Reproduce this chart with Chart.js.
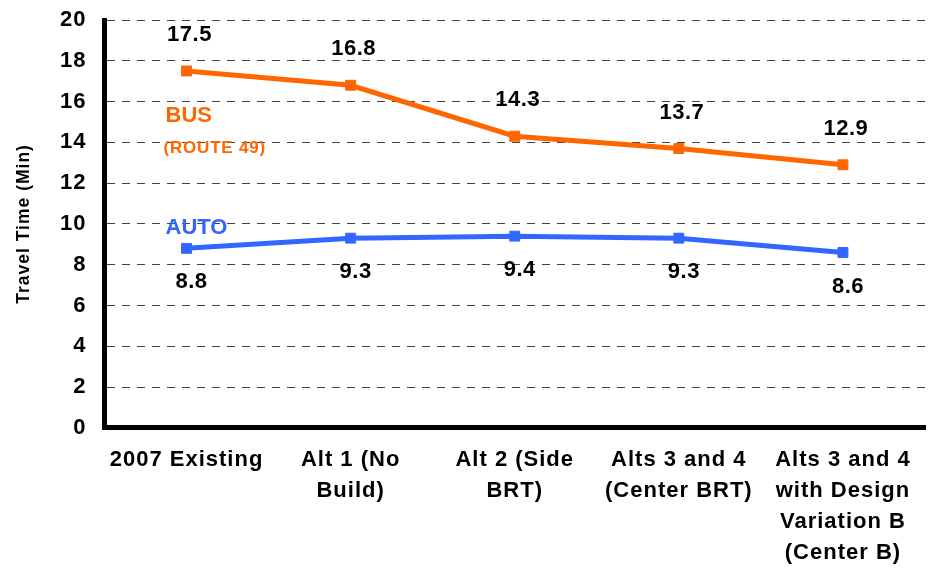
<!DOCTYPE html>
<html>
<head>
<meta charset="utf-8">
<script src="https://cdn.jsdelivr.net/npm/chart.js@4/dist/chart.umd.min.js"></script>
<style>
  html, body { margin: 0; padding: 0; background: #fff; }
  #wrap { width: 928px; height: 568px; }
</style>
</head>
<body>
<div id="wrap"><canvas id="chart"></canvas></div>
<script>
// Data
var categories = [
    ['2007 Existing'],
    ['Alt 1 (No', 'Build)'],
    ['Alt 2 (Side', 'BRT)'],
    ['Alts 3 and 4', '(Center BRT)'],
    ['Alts 3 and 4', 'with Design', 'Variation B', '(Center B)']
];
var busTimes = [17.5, 16.8, 14.3, 13.7, 12.9];
var autoTimes = [8.8, 9.3, 9.4, 9.3, 8.6];
var yTicks = [0, 2, 4, 6, 8, 10, 12, 14, 16, 18, 20];

var BUS_COLOR = '#FF6600';
var AUTO_COLOR = '#3366FF';
var FONT = "'Liberation Sans', Arial, sans-serif";

// the axis text in the picture is a bit spaced out
var spacingPlugin = {
    id: 'spacing',
    beforeUpdate: function(chart) { chart.ctx.letterSpacing = '1px'; },
    beforeDraw: function(chart) { chart.ctx.letterSpacing = '1px'; }
};

// Value labels above (bus) / below (auto) each point, plus the series names
var labelPlugin = {
    id: 'valueLabels',
    afterDatasetsDraw: function(chart) {
        var ctx = chart.ctx;
        var x = chart.scales.x, y = chart.scales.y;
        ctx.save();
        ctx.letterSpacing = '0.5px';
        ctx.fillStyle = '#000';
        ctx.font = 'bold 22px ' + FONT;
        ctx.textAlign = 'center';
        ctx.textBaseline = 'middle';
        chart.getDatasetMeta(0).data.forEach(function(pt, i) {
            ctx.fillText(busTimes[i].toFixed(1), pt.x + 3, pt.y - 36);
        });
        chart.getDatasetMeta(1).data.forEach(function(pt, i) {
            ctx.fillText(autoTimes[i].toFixed(1), pt.x + 5, pt.y + 34);
        });

        // series names
        var left = x.getPixelForValue(0) - 21;
        ctx.letterSpacing = '0px';
        ctx.textAlign = 'left';
        ctx.fillStyle = BUS_COLOR;
        ctx.fillText('BUS', left, y.getPixelForValue(15.3));
        ctx.font = 'bold 17px ' + FONT;
        ctx.letterSpacing = '0.8px';
        ctx.fillText('(ROUTE 49)', left - 2, y.getPixelForValue(13.7));
        ctx.letterSpacing = '0px';
        ctx.fillStyle = AUTO_COLOR;
        ctx.font = 'bold 22px ' + FONT;
        ctx.fillText('AUTO', left, y.getPixelForValue(9.8));
        ctx.restore();
    }
};

var ctx = document.getElementById('chart').getContext('2d');
var chart = new Chart(ctx, {
    type: 'line',
    data: {
        labels: categories,
        datasets: [{
            label: 'BUS (ROUTE 49)',
            data: busTimes,
            borderColor: BUS_COLOR,
            backgroundColor: BUS_COLOR,
            borderWidth: 5,
            pointStyle: 'rect',
            pointRadius: 7,
            pointHoverRadius: 7,
            pointBorderWidth: 1,
            tension: 0
        }, {
            label: 'AUTO',
            data: autoTimes,
            borderColor: AUTO_COLOR,
            backgroundColor: AUTO_COLOR,
            borderWidth: 5,
            pointStyle: 'rect',
            pointRadius: 7,
            pointHoverRadius: 7,
            pointBorderWidth: 1,
            tension: 0
        }]
    },
    options: {
        responsive: true,
        maintainAspectRatio: false,
        animation: false,
        layout: { autoPadding: false, padding: { top: 20, right: 3, left: 14, bottom: 0 } },
        plugins: {
            legend: { display: false },
            tooltip: { enabled: false }
        },
        scales: {
            x: {
                offset: true,
                grid: { display: false, drawTicks: true, tickLength: 17 },
                border: { display: true, color: '#000', width: 5 },
                ticks: {
                    color: '#000',
                    font: { family: FONT, size: 22, weight: 'bold', lineHeight: 1.4 },
                    maxRotation: 0,
                    autoSkip: false,
                    padding: 0
                }
            },
            y: {
                min: 0,
                max: 20,
                afterBuildTicks: function(axis) {
                    axis.ticks = yTicks.map(function(v) { return { value: v }; });
                },
                grid: { color: '#444', lineWidth: 1, drawTicks: true, tickLength: 18, tickColor: 'rgba(0,0,0,0)' },
                border: { display: true, color: '#000', width: 5, dash: [8, 7] },
                ticks: {
                    color: '#000',
                    font: { family: FONT, size: 22, weight: 'bold' },
                    padding: 0
                },
                title: {
                    display: true,
                    text: 'Travel Time (Min)',
                    color: '#000',
                    font: { family: FONT, size: 17.5, weight: 'bold' },
                    padding: { top: 0, bottom: 25 }
                }
            }
        }
    },
    plugins: [spacingPlugin, labelPlugin]
});
</script>
</body>
</html>
